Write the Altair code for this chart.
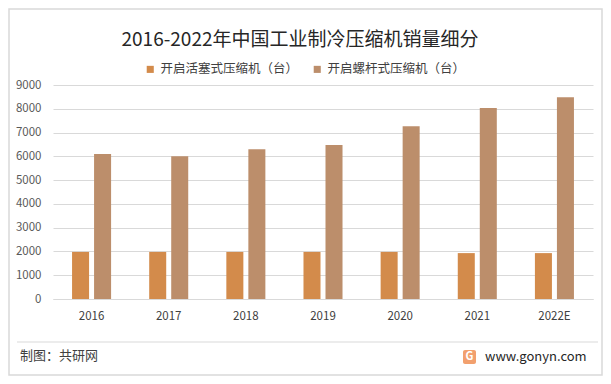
import altair as alt
import pandas as pd

years = ["2016", "2017", "2018", "2019", "2020", "2021", "2022E"]
piston = [1980, 1980, 1980, 1980, 1980, 1930, 1930]
screw = [6100, 6000, 6300, 6480, 7270, 8030, 8490]
series_names = ["开启活塞式压缩机（台）", "开启螺杆式压缩机（台）"]
colors = ["#D38B4B", "#BC8E6B"]
title_text = "2016-2022年中国工业制冷压缩机销量细分"
source_text = "制图：共研网"
site_text = "www.gonyn.com"

rows = []
for i, y in enumerate(years):
    rows.append({"year": y, "series": series_names[0], "value": piston[i]})
    rows.append({"year": y, "series": series_names[1], "value": screw[i]})
df = pd.DataFrame(rows)

FONT = "Noto Sans CJK SC"

bars = alt.Chart(df).mark_bar().encode(
    x=alt.X("year:N", sort=years, title=None,
            scale=alt.Scale(paddingInner=0.494, paddingOuter=0.247),
            axis=alt.Axis(labelAngle=0, labelFontSize=11.5, labelColor="#404040",
                          labelFont=FONT, ticks=False, domainColor="#d9d9d9",
                          labelPadding=11)),
    xOffset=alt.XOffset("series:N", sort=series_names,
                        scale=alt.Scale(domain=series_names, paddingInner=0.227, paddingOuter=0)),
    y=alt.Y("value:Q", title=None,
            scale=alt.Scale(domain=[0, 9000], nice=False),
            axis=alt.Axis(values=list(range(0, 9001, 1000)), format="d", labelFontSize=11.5,
                          labelColor="#595959", labelFont=FONT, ticks=False, domain=False,
                          gridColor="#d9d9d9", labelPadding=12)),
    color=alt.Color("series:N", sort=series_names,
                    scale=alt.Scale(domain=series_names, range=colors),
                    legend=alt.Legend(title=None, orient="none", legendX=91, legendY=-22,
                                      direction="horizontal", symbolType="square",
                                      symbolSize=50, labelFontSize=12.5, labelFont=FONT,
                                      labelColor="#404040", columnPadding=12,
                                      symbolStrokeWidth=0)),
)

def txt(s, x, y, size, align="left", color="#404040", weight="normal"):
    return alt.Chart(pd.DataFrame({"t": [s]})).mark_text(
        align=align, baseline="middle", fontSize=size, font=FONT, color=color,
        fontWeight=weight
    ).encode(text="t:N", x=alt.value(x), y=alt.value(y))

title = txt(title_text, 247, -45, 19, align="center", color="#262626")
source = txt(source_text, -33, 271, 13)
site = txt(site_text, 432, 272, 13, color="#262626")

logo = alt.Chart(pd.DataFrame({"a": [0]})).mark_rect(
    color="#F2A06E", cornerRadius=2
).encode(x=alt.value(410), x2=alt.value(423), y=alt.value(265), y2=alt.value(279))
logo_g = txt("G", 416.5, 272, 11, align="center", color="white", weight="bold")

sep = alt.Chart(pd.DataFrame({"a": [0]})).mark_rule(color="#d9d9d9", strokeWidth=1).encode(
    x=alt.value(-36), x2=alt.value(545), y=alt.value(257))

border = alt.Chart(pd.DataFrame({"a": [0]})).mark_rect(
    fill=None, stroke="#d9d9d9", strokeWidth=1.5
).encode(x=alt.value(-44), x2=alt.value(549), y=alt.value(-76), y2=alt.value(290))

chart = alt.layer(border, bars, title, sep, source, logo, logo_g, site).properties(
    width=540, height=214,
    padding={"left": 45, "top": 77, "right": 10, "bottom": 77},
    autosize=alt.AutoSizeParams(type="none"),
    background="white",
).configure_view(stroke=None)

chart.save("out.html", embed_options={"renderer": "svg", "actions": False})
